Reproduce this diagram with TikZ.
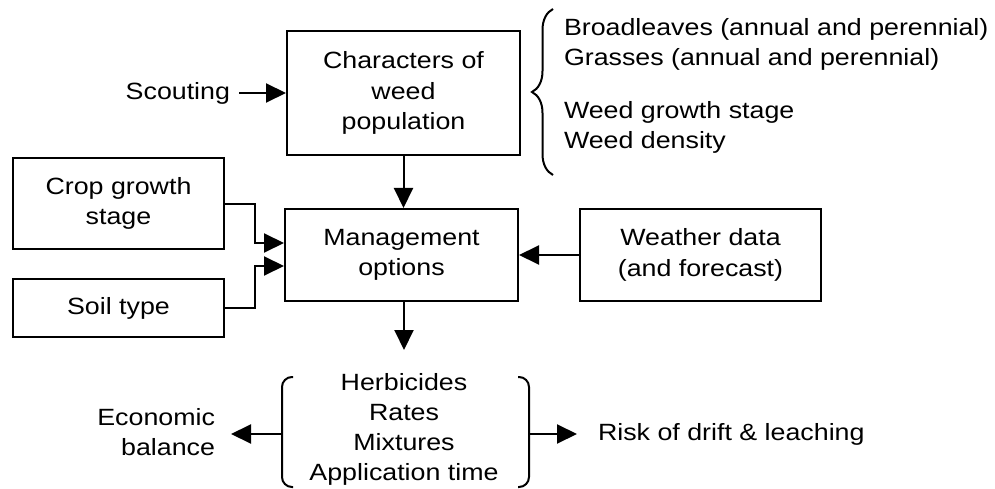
\documentclass[tikz,border=0pt]{standalone}
\usepackage{fontspec}
\setmainfont{Liberation Sans}[FakeStretch=1.14]
\usetikzlibrary{arrows.meta,decorations.pathreplacing}
\begin{document}
\begin{tikzpicture}[x=1pt,y=-1pt,line width=2pt,
  box/.style={draw,rectangle,align=center,inner sep=0pt,font=\fontsize{23.5}{30.5}\selectfont},
  txt/.style={align=center,inner sep=0pt,font=\fontsize{23.5}{30}\selectfont},
  arr/.style={-{Triangle[length=20pt,width=19pt]}},
  bracket/.style={rounded corners=10pt}]
\useasboundingbox (0,0) rectangle (995,489);
% boxes
\node[box,minimum width=233pt,minimum height=124pt] (chars) at (403.5,93) {Characters of\\weed\\population};
\node[box,minimum width=211pt,minimum height=91pt] (crop) at (118.5,203.5) {Crop growth\\stage};
\node[box,minimum width=211pt,minimum height=58pt] (soil) at (118.5,308) {Soil type};
\node[box,minimum width=233pt,minimum height=92pt] (mgmt) at (401.5,255) {Management\\options};
\node[box,minimum width=241pt,minimum height=92pt] (weather) at (700.5,255) {Weather data\\(and forecast)};
% texts
\node[txt,anchor=east,inner xsep=8pt] (scout) at (239,93) {Scouting};
\node[txt,anchor=west,align=left] (b1) at (563,29) {Broadleaves (annual and perennial)};
\node[txt,anchor=west,align=left] (b2) at (563,59) {Grasses (annual and perennial)};
\node[txt,anchor=west,align=left] (b3) at (563,112) {Weed growth stage};
\node[txt,anchor=west,align=left] (b4) at (563,142) {Weed density};
\node[txt] (opts) at (404,429) {Herbicides\\Rates\\Mixtures\\Application time};
\node[txt,anchor=east,align=right,inner xsep=15pt] (econ) at (231,432) {Economic\\balance};
\node[txt,anchor=west,inner xsep=20pt] (risk) at (577,434) {Risk of drift \& leaching};
% brace
\draw[decorate,decoration={brace,amplitude=21pt}] (553,175) -- (553,9);
% brackets
\draw[bracket] (293,377) -- (282,377) -- (282,487) -- (293,487);
\draw[bracket] (518,377) -- (529,377) -- (529,487) -- (518,487);
\coordinate (lb) at (282,434);
\coordinate (rb) at (529,434);
\coordinate (down) at (404,350);
% arrows
\draw[arr] (scout.east) -- (chars.west);
\draw[arr] (chars.south) -- (chars.south |- mgmt.north);
\draw[arr] (crop.east) -- ++(30,0) |- ([yshift=12pt]mgmt.west);
\draw[arr] (soil.east) -- ++(30,0) |- ([yshift=-11pt]mgmt.west);
\draw[arr] (weather.west) -- (mgmt.east);
\draw[arr] (mgmt.south -| down) -- (down);
\draw[arr] (lb) -- (lb -| econ.east);
\draw[arr] (rb) -- (risk.west);
\end{tikzpicture}
\end{document}
